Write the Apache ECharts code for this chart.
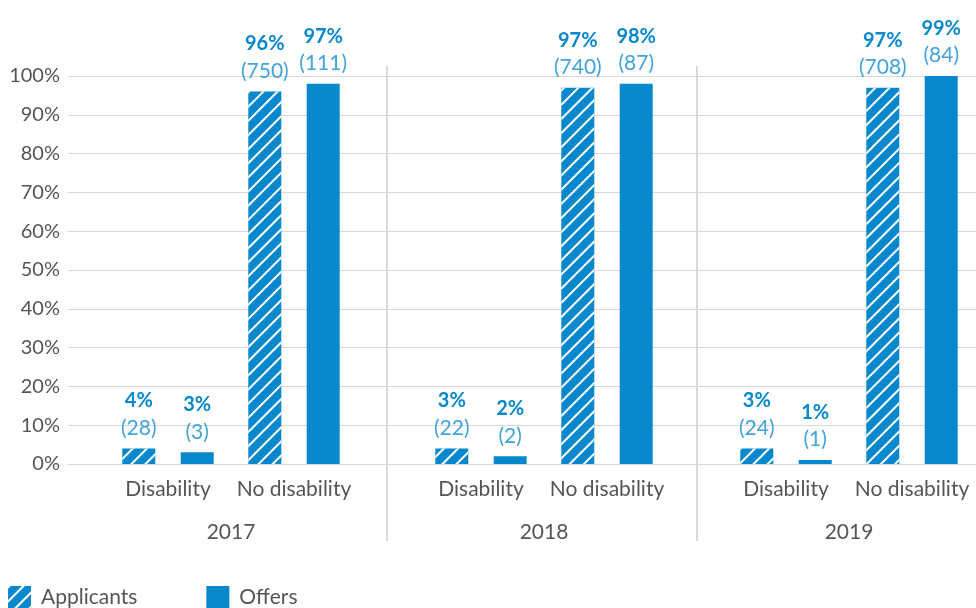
<!DOCTYPE html>
<html>
<head>
<meta charset="utf-8">
<script src="https://cdn.jsdelivr.net/npm/echarts@6/dist/echarts.min.js"></script>
<style>
  html, body { margin: 0; padding: 0; background: #fff; }
  #chart { width: 976px; height: 608px; }
</style>
</head>
<body>
<div id="chart"></div>
<script>
// data
const years = ['2017', '2018', '2019']
const groups = ['Disability', 'No disability']
const yTicks = [0, 10, 20, 30, 40, 50, 60, 70, 80, 90, 100]

// bar heights (%) per year: [Disability, No disability]
const applicants = [[4, 96], [4, 97], [4, 97]]
const offers = [[3, 98], [2, 98], [1, 100]]

// printed labels
const applicantsPctText = [['4%', '96%'], ['3%', '97%'], ['3%', '97%']]
const applicantsCount = [[28, 750], [22, 740], [24, 708]]
const offersPctText = [['3%', '97%'], ['2%', '98%'], ['1%', '99%']]
const offersCount = [[3, 111], [2, 87], [1, 84]]

const BLUE = '#0787cc'
const FONT = 'Lato'
const TEXT = '#555'

const chart = echarts.init(document.getElementById('chart'), null, { renderer: 'canvas' })

// one grid per year, plus a background grid for the y axis + gridlines
const gridPos = [
  { left: 105, width: 252 },
  { left: 418, width: 252 },
  { left: 723, width: 252 },
]
const grids = [{ left: 68, right: 0, top: 76, bottom: 144 }]
gridPos.forEach(g => grids.push({ left: g.left, width: g.width, top: 76, bottom: 144 }))

const xAxes = [{ gridIndex: 0, type: 'category', data: [''], show: false }]
const yAxes = [{
  gridIndex: 0,
  type: 'value',
  min: yTicks[0],
  max: yTicks[yTicks.length - 1],
  interval: 10,
  axisLine: { show: false },
  axisTick: { show: false },
  axisLabel: { formatter: '{value}%', color: TEXT, fontSize: 20, fontFamily: FONT, margin: 8 },
  splitLine: { lineStyle: { color: '#d9d7d5', width: 1 } },
}]

years.forEach((yr, i) => {
  xAxes.push({
    gridIndex: i + 1,
    type: 'category',
    data: groups,
    name: yr,
    nameLocation: 'middle',
    nameGap: 58,
    nameTextStyle: { color: TEXT, fontSize: 21, fontFamily: FONT },
    axisLine: { show: false },
    axisTick: { show: false },
    axisLabel: { color: TEXT, fontSize: 21, fontFamily: FONT, margin: 15, interval: 0 },
  })
  yAxes.push({ gridIndex: i + 1, type: 'value', min: 0, max: 100, show: false, splitLine: { show: false } })
})

function makeLabel(pcts, counts) {
  return {
    show: true,
    position: 'top',
    distance: 7,
    formatter: p => '{a|' + pcts[p.dataIndex] + '}\n{b|(' + counts[p.dataIndex] + ')}',
    rich: {
      a: { color: BLUE, fontSize: 20, fontWeight: 'bold', fontFamily: FONT, lineHeight: 27 },
      b: { color: '#44a3dc', fontSize: 21, fontFamily: FONT, lineHeight: 27 },
    },
  }
}

const series = []
years.forEach((yr, i) => {
  series.push({
    name: 'Applicants',
    type: 'bar',
    xAxisIndex: i + 1,
    yAxisIndex: i + 1,
    data: applicants[i],
    barWidth: 33,
    barGap: '77%',
    itemStyle: {
      color: BLUE,
      decal: {
        symbol: 'rect',
        symbolSize: 1,
        color: '#ffffff',
        dashArrayX: [1, 0],
        dashArrayY: [2, 7.5],
        rotation: -Math.PI / 4,
      },
    },
    label: makeLabel(applicantsPctText[i], applicantsCount[i]),
  })
  series.push({
    name: 'Offers',
    type: 'bar',
    xAxisIndex: i + 1,
    yAxisIndex: i + 1,
    data: offers[i],
    barWidth: 33,
    itemStyle: { color: BLUE },
    label: makeLabel(offersPctText[i], offersCount[i]),
  })
})

const option = {
  animation: false,
  backgroundColor: '#fff',
  textStyle: { fontFamily: FONT },
  grid: grids,
  xAxis: xAxes,
  yAxis: yAxes,
  legend: {
    data: ['Applicants', 'Offers'],
    left: 3,
    top: 581,
    itemWidth: 23,
    itemHeight: 22,
    itemGap: 69,
    icon: 'rect',
    textStyle: { color: TEXT, fontSize: 21, fontFamily: FONT, padding: [0, 0, 0, 5] },
  },
  // year separators
  graphic: [
    { type: 'line', shape: { x1: 387, y1: 66, x2: 387, y2: 541 }, style: { stroke: '#b9b4b0', lineWidth: 1 } },
    { type: 'line', shape: { x1: 697, y1: 66, x2: 697, y2: 541 }, style: { stroke: '#b9b4b0', lineWidth: 1 } },
  ],
  series: series,
}

chart.setOption(option)
</script>
</body>
</html>
